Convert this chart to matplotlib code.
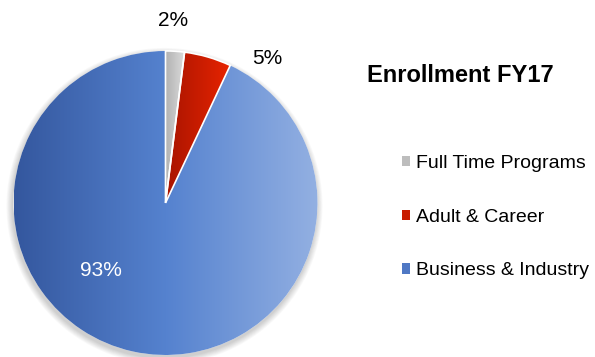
import numpy as np
import matplotlib.pyplot as plt
from matplotlib.colors import LinearSegmentedColormap
from matplotlib.patches import Circle, Patch, PathPatch

plt.rcParams['font.family'] = ['Liberation Sans', 'DejaVu Sans']

# enrollment shares, FY17
categories = ['Full Time Programs', 'Adult & Career', 'Business & Industry']
shares = [2, 5, 93]
explode = [0.06, 0.055, 0.0]

# left-to-right gradient stops for each slice
grad_colors = [
    ['#b4b4b4', '#dcdcdc'],
    ['#a81400', '#e82400'],
    ['#34579e', '#5582cf', '#93b0e2'],
]
legend_colors = ['#bdbdbd', '#c81c00', '#4f78c4']

W, H = 595, 357
cx, cy, r = 165.5, 154, 152

fig = plt.figure(figsize=(W / 100, H / 100), dpi=100)
ax = fig.add_axes([0, 0, 1, 1])

# soft drop shadow under the pie
for i in range(8):
    ax.add_patch(Circle((cx - 1, cy - 3), r + 0.5 + i * 0.8, color='black',
                        alpha=0.025, lw=0, zorder=0))

wedges, _ = ax.pie(shares, startangle=90, counterclock=False, explode=explode,
                   center=(cx, cy), radius=r, colors=['white'] * 3,
                   wedgeprops=dict(lw=0))

# fill each wedge with a horizontal gradient clipped to its shape
grad = np.linspace(0, 1, 256).reshape(1, -1)
for w, stops in zip(wedges, grad_colors):
    w.set_zorder(1)
    ext = w.get_path().get_extents()
    cmap = LinearSegmentedColormap.from_list('g', stops)
    im = ax.imshow(grad, cmap=cmap, aspect='auto', zorder=2,
                   extent=(ext.x0, ext.x1, ext.y0, ext.y1))
    im.set_clip_path(w)

# thin white seams around the pulled-out slices
for w in wedges[:2]:
    ax.add_patch(PathPatch(w.get_path(), fc='none', ec='white', lw=1.2, zorder=2.5))

# percentage labels
ax.text(173, H - 21, f'{shares[0]}%', ha='center', va='center', fontsize=15, zorder=3)
ax.text(267, H - 59, f'{shares[1]}%', ha='center', va='center', fontsize=15, zorder=3)
ax.text(101, H - 270, f'{shares[2]}%', ha='center', va='center', fontsize=15,
        color='white', zorder=3)

ax.text(460, H - 75, 'Enrollment FY17', ha='center', va='center', fontsize=17,
        fontweight='bold')

handles = [Patch(facecolor=c, edgecolor='none') for c in legend_colors]
ax.legend(handles, categories, loc='center left', bbox_to_anchor=(402 / W, 1 - 217 / H),
          frameon=False, fontsize=14, handlelength=0.42, handleheight=0.42,
          handletextpad=0.3, labelspacing=1.9, borderpad=0, borderaxespad=0)

ax.set_xlim(0, W)
ax.set_ylim(0, H)
ax.set_aspect('equal')
ax.axis('off')

fig.savefig('out.png', dpi=100)
